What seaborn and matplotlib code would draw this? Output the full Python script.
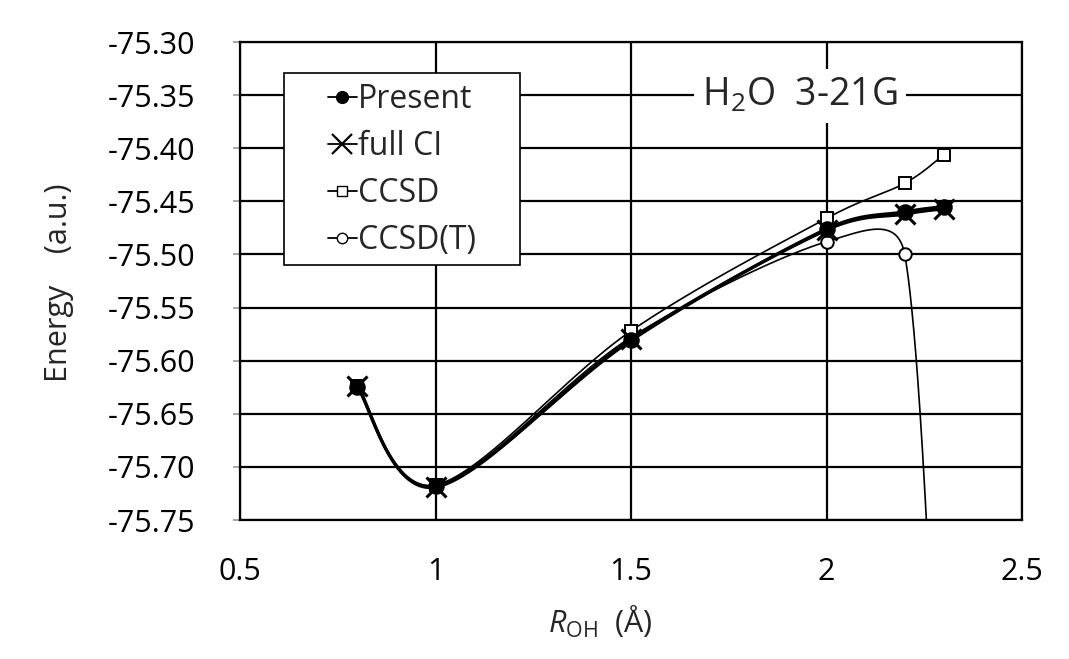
import numpy as np
import pandas as pd
import matplotlib
matplotlib.use("Agg")
import matplotlib.pyplot as plt
from matplotlib.lines import Line2D
from matplotlib.patches import Rectangle
import seaborn as sns

# ---- data ----
r_oh = [0.8, 1.0, 1.5, 2.0, 2.2, 2.3]
present = [-75.625, -75.718, -75.581, -75.476, -75.460, -75.455]
full_ci = [-75.624, -75.719, -75.580, -75.477, -75.462, -75.457]
ccsd = [-75.624, -75.717, -75.572, -75.466, -75.433, -75.406]
ccsd_t = [-75.624, -75.718, -75.578, -75.488, -75.500, -76.10]

x_ticks = [0.5, 1.0, 1.5, 2.0, 2.5]
x_tick_labels = ["0.5", "1", "1.5", "2", "2.5"]
y_ticks = [-75.75, -75.70, -75.65, -75.60, -75.55, -75.50, -75.45, -75.40, -75.35, -75.30]
y_tick_labels = ["%.2f" % v for v in y_ticks]

sns.set_style("white")
plt.rcParams["font.family"] = ["Open Sans", "DejaVu Sans"]
plt.rcParams["mathtext.fontset"] = "custom"
plt.rcParams["mathtext.rm"] = "Open Sans"
plt.rcParams["mathtext.it"] = "Open Sans:italic"

fig = plt.figure(figsize=(10.69, 6.59), dpi=100)
ax = fig.add_axes([240 / 1069, 1 - 520 / 659, 782 / 1069, 478 / 659])
ax.set_xlim(0.5, 2.5)
ax.set_ylim(-75.75, -75.30)


def smooth(xs, ys, n=80):
    """Excel-like smoothed line: cubic Bezier, Catmull-Rom arms (1/6),
    arm length capped at half the segment length (in display space)."""
    P = ax.transData.transform(np.column_stack([xs, ys]))
    out = []
    for i in range(len(P) - 1):
        p0 = P[i - 1] if i > 0 else P[i]
        p1 = P[i]
        p2 = P[i + 1]
        p3 = P[i + 2] if i + 2 < len(P) else P[i + 1]
        d12 = np.linalg.norm(p2 - p1)
        a1 = (p2 - p0) / 6.0
        a2 = (p3 - p1) / 6.0
        if np.linalg.norm(a1) > d12 / 2:
            a1 = a1 / np.linalg.norm(a1) * d12 / 2
        if np.linalg.norm(a2) > d12 / 2:
            a2 = a2 / np.linalg.norm(a2) * d12 / 2
        c1 = p1 + a1
        c2 = p2 - a2
        t = np.linspace(0, 1, n)[:, None]
        seg = ((1 - t) ** 3) * p1 + 3 * ((1 - t) ** 2) * t * c1 + 3 * (1 - t) * t ** 2 * c2 + t ** 3 * p2
        out.append(seg if i == 0 else seg[1:])
    a = ax.transData.inverted().transform(np.vstack(out))
    return pd.DataFrame({"x": a[:, 0], "y": a[:, 1]})


series = [
    ("CCSD(T)", ccsd_t, 1.2, "o", "white", 9),
    ("CCSD", ccsd, 1.2, "s", "white", 8.5),
    ("full CI", full_ci, 2.3, "x", "black", 15),
    ("Present", present, 2.3, "o", "black", 10.5),
]
for name, vals, lw, mk, fc, ms in series:
    df = smooth(r_oh, vals)
    sns.lineplot(data=df, x="x", y="y", sort=False, estimator=None, ax=ax,
                 color="black", lw=lw, zorder=3)
    pts = pd.DataFrame({"x": r_oh, "y": vals})
    ax.plot(pts["x"], pts["y"], ls="none", marker=mk, ms=ms, mfc=fc,
            mec="black", mew=1.4 if mk != "x" else 2.2, zorder=4)

ax.set_xticks(x_ticks)
ax.set_xticklabels(x_tick_labels)
ax.set_yticks(y_ticks)
ax.set_yticklabels(y_tick_labels)
ax.tick_params(axis="both", labelsize=22, colors="black")
ax.tick_params(axis="y", length=5, width=1.2, direction="out", pad=27,
               left=True, color="#999999")
ax.tick_params(axis="x", length=0, pad=27)
ax.grid(True, color="black", lw=1.6)
ax.set_axisbelow(True)
for s in ax.spines.values():
    s.set_color("black")
    s.set_linewidth(1.6)

ax.set_xlabel(r"$\mathit{R}_{\mathrm{OH}}$  (Å)", fontsize=22, va="center")
ax.xaxis.set_label_coords((600 - 240) / 782, (520 - 622) / 478)
ax.set_ylabel("Energy    (a.u.)", fontsize=22, va="center")
ax.yaxis.set_label_coords((59 - 240) / 782, (520 - 283) / 478)

ax.text((800 - 240) / 782, (520 - 96) / 478, r"H$_2$O  3-21G",
        transform=ax.transAxes, fontsize=27, ha="center", va="center", zorder=6,
        bbox=dict(facecolor="white", edgecolor="none", pad=6))

# legend frame (Excel style, large side padding)
ax.add_patch(Rectangle(((284 - 240) / 782, (520 - 265) / 478), 236 / 782, 192 / 478,
                       transform=ax.transAxes, facecolor="white", edgecolor="black",
                       lw=1.2, zorder=6))
handles = [
    Line2D([], [], color="black", lw=1.3, marker="o", ms=8.5, mfc="black", mec="black"),
    Line2D([], [], color="black", lw=1.3, marker="x", ms=15, mew=1.6),
    Line2D([], [], color="black", lw=1.3, marker="s", ms=6.5, mfc="white", mec="black"),
    Line2D([], [], color="black", lw=1.3, marker="o", ms=7.5, mfc="white", mec="black"),
]
leg = ax.legend(handles, ["Present", "full CI", "CCSD", "CCSD(T)"],
                loc="upper left", bbox_to_anchor=((328 - 240) / 782, (520 - 83) / 478),
                fontsize=23, frameon=False, handlelength=0.9,
                handletextpad=0.05, borderpad=0, labelspacing=0.44,
                borderaxespad=0)
leg.set_zorder(7)

fig.savefig("out.png", dpi=100, facecolor="white")
